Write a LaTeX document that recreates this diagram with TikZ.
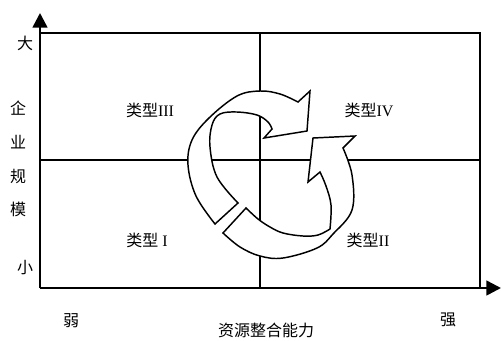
\documentclass[tikz,border=0pt]{standalone}
\usepackage{fontspec}
\setmainfont{Liberation Serif}
\newfontfamily\cjk{Noto Sans CJK SC}
\usetikzlibrary{arrows.meta}
\tikzset{
  axisline/.style={line width=1.9pt,-{Triangle[length=11pt,width=11pt]}},
  gridline/.style={line width=1.1pt},
  blockarrow/.style={line width=1.1pt,fill=white,line join=miter},
  lbl/.style={inner sep=0pt,font=\cjk\fontsize{12pt}{14pt}\selectfont},
  quad/.style={inner sep=0pt,font=\fontsize{12pt}{14pt}\selectfont}
}
\begin{document}
\begin{tikzpicture}[x=0.75pt,y=-0.75pt]
\useasboundingbox (0,0) rectangle (502,340);
% coordinates
\coordinate (O) at (40,288);
\coordinate (Ytip) at (40,13);
\coordinate (Xtip) at (501,288);
\coordinate (TL) at (40,33);
\coordinate (TR) at (480,33);
\coordinate (BR) at (480,288);
\coordinate (ML) at (40,160);
\coordinate (MR) at (480,160);
\coordinate (MT) at (260,33);
\coordinate (MB) at (260,288);
% grid
\draw[gridline] (TL) -- (TR) -- (BR);
\draw[gridline] (ML) -- (MR);
\draw[gridline] (MT) -- (MB);
% axes
\draw[axisline] (O) -- (Ytip);
\draw[axisline] (O) -- (Xtip);
% circular arrows
\draw[blockarrow] plot[smooth,tension=0.6] coordinates {(246,208) (258,219) (270,227) (283,233) (303,236) (318,235) (330,229)}
  -- plot[smooth,tension=0.6] coordinates {(330,229) (331,205) (326,186) (320,172)}
  -- (308,182) -- (313,138) -- (355,136) -- (343,148)
  -- plot[smooth,tension=0.6] coordinates {(343,148) (352,175) (352,210) (333,234) (317,248) (283,258) (260,256) (240,247) (223,233)}
  -- cycle;
\draw[blockarrow] plot[smooth,tension=0.6] coordinates {(215,224) (196,196) (188,165) (192,140) (209,118) (237,96) (260,91) (280,94) (298,102)}
  -- (310,91) -- (307,131) -- (264,138) -- (272,129)
  -- plot[smooth,tension=0.6] coordinates {(272,129) (268,122) (257,115) (237,112) (220,114) (212,125) (210,147) (217,177) (238,203)}
  -- cycle;
% axis labels
\node[lbl] (big) at (25,43) {大};
\node[lbl] (q1) at (18,108) {企};
\node[lbl] (q2) at (18,142) {业};
\node[lbl] (q3) at (18,176) {规};
\node[lbl] (q4) at (18,209) {模};
\node[lbl] (small) at (25,268) {小};
\node[lbl] (weak) at (71,321) {弱};
\node[lbl] (xlab) at (266,330) {资源整合能力};
\node[lbl] (strong) at (448,320) {强};
% quadrant labels
\node[quad] (t3) at (150,110) {{\cjk 类型}III};
\node[quad] (t4) at (369,110) {{\cjk 类型}IV};
\node[quad] (t1) at (147,240) {{\cjk 类型} I};
\node[quad] (t2) at (368,240) {{\cjk 类型}II};
\end{tikzpicture}
\end{document}
